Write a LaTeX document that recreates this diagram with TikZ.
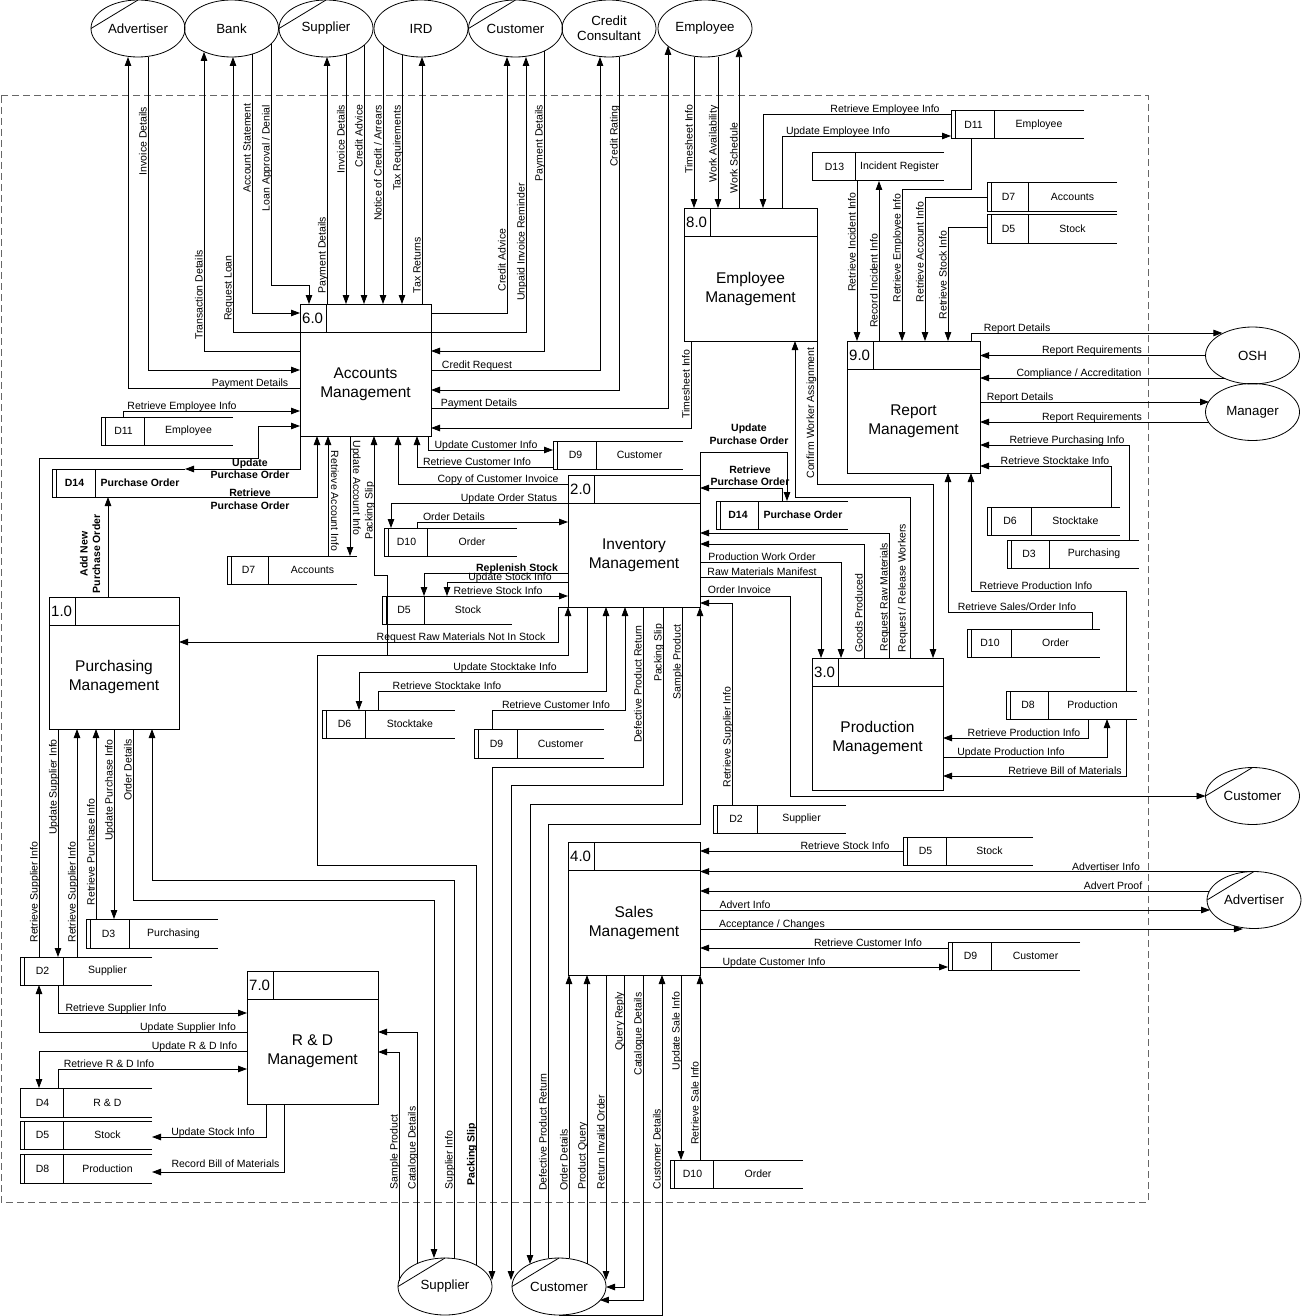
\documentclass[tikz,border=0pt]{standalone}
\usepackage{fontspec}
\setmainfont{Liberation Sans}
\usetikzlibrary{arrows.meta,shapes.geometric}
\newcommand\procbox[7]{%
  \node[draw,line width=1pt,inner sep=0pt,outer sep=0pt,anchor=north west,minimum width={#4-#2},minimum height={#5-#3}] (#1) at (#2,#3) {};
  \draw[line width=1pt] (#2,#3+28) -- (#4,#3+28) (#2+26,#3) -- (#2+26,#3+28);
  \node[anchor=west,inner sep=0pt,font=\fontsize{15}{17}\selectfont] at (#2+2,#3+14.5) {#6};
  \node[align=center,inner sep=0pt,font=\fontsize{15.5}{19}\selectfont] at ({(#2+#4)/2},{(#3+28+#5)/2}) {#7};
}
\newcommand\dstore[9]{%
  \node[inner sep=0pt,outer sep=0pt,anchor=north west,minimum width={#4-#2},minimum height={#5-#3}] (#1) at (#2,#3) {};
  \draw[line width=1pt] (#4,#3) -- (#2,#3) -- (#2,#5) -- (#4,#5) (#6,#3) -- (#6,#5);
  \ifnum#9=1 \draw[line width=1pt] (#2+4.5,#3) -- (#2+4.5,#5);\fi
  \node[font=\fontsize{10.5}{12}\selectfont,inner sep=0pt] at ({(#2+#6)/2+1},{(#3+#5)/2}) {#7};
  \node[font=\fontsize{10.5}{12}\selectfont,inner sep=0pt] at ({(#6+#4)/2},{(#3+#5)/2}) {#8};
}
\begin{document}
\begin{tikzpicture}[x=1pt,y=-1pt,
  fl/.style={draw,line width=0.8pt,-{Triangle[length=9pt,width=6.5pt]}},
  lab/.style={font=\fontsize{10.5}{12.5}\selectfont,inner sep=0pt,anchor=base},
  rl/.style={lab,rotate=90},
  rr/.style={lab,rotate=-90},
  blab/.style={font=\bfseries\fontsize{10.5}{12.5}\selectfont,inner sep=0pt,align=center},
  ent/.style={ellipse,draw,line width=0.8pt,minimum width=94pt,minimum height=57pt,inner sep=0pt,outer sep=0pt,font=\fontsize{13.3}{15}\selectfont,align=center},
  dup/.style={line width=0.8pt}]
\useasboundingbox (0,0) rectangle (1302,1316);
\fill[white] (0,0) rectangle (1302,1316);
\draw[dash pattern=on 7pt off 4pt,line width=1pt,black!60] (1,96) rectangle (1148,1202);

% external entities
\node[ent] (eAdv) at (138,28.5) {Advertiser};
\node[ent] (eBank) at (231.5,28.5) {Bank};
\node[ent] (eSup) at (326,28.5) {Supplier};
\node[ent] (eIRD) at (421,28.5) {IRD};
\node[ent] (eCus) at (515.5,28.5) {Customer};
\node[ent] (eCC) at (609,28.5) {Credit\\Consultant};
\node[ent] (eEmp) at (705,28.5) {Employee};
\node[ent] (eOSH) at (1252.5,355.5) {OSH};
\node[ent] (eMgr) at (1252.5,412) {Manager};
\node[ent] (eCusR) at (1252.5,796) {Customer};
\node[ent] (eAdvR) at (1254,900) {Advertiser};
\node[ent] (eSupB) at (445,1286.5) {Supplier};
\node[ent] (eCusB) at (559,1286.5) {Customer};
\foreach \e in {eAdv,eSup,eCus,eCusR,eAdvR,eSupB,eCusB} \draw[dup] (\e.north) -- (\e.west);

% processes
\procbox{p6}{300}{304}{431}{436}{6.0}{Accounts\\Management}
\procbox{p8}{684}{208}{817}{341}{8.0}{Employee\\Management}
\procbox{p9}{847}{341}{980}{473}{9.0}{Report\\Management}
\procbox{p2}{568}{475}{700}{607}{2.0}{Inventory\\Management}
\procbox{p1}{49}{597}{179}{729}{1.0}{Purchasing\\Management}
\procbox{p3}{812}{658}{943}{790}{3.0}{Production\\Management}
\procbox{p4}{568}{842}{700}{975}{4.0}{Sales\\Management}
\procbox{p7}{247}{971}{378}{1104}{7.0}{R \& D\\Management}

% data stores
\dstore{sD11a}{951}{111}{1084}{139}{994}{D11}{Employee}{1}
\dstore{sD13}{812}{153}{944}{181}{855}{D13}{Incident Register}{0}
\dstore{sD7a}{987}{183}{1117}{211}{1028}{D7}{Accounts}{1}
\dstore{sD5a}{987}{214}{1117}{243}{1028}{D5}{Stock}{1}
\dstore{sD11b}{101}{417}{233}{445}{144}{D11}{Employee}{1}
\dstore{sD14a}{52}{469}{185}{497}{95}{\bfseries D14}{\bfseries Purchase Order}{1}
\dstore{sD7b}{227}{556}{357}{584}{268}{D7}{Accounts}{1}
\dstore{sD9a}{553}{441}{683}{469}{596}{D9}{Customer}{1}
\dstore{sD10a}{384}{528}{517}{556}{427}{D10}{Order}{1}
\dstore{sD5b}{382}{596}{512}{624}{424}{D5}{Stock}{1}
\dstore{sD14b}{716}{501}{848}{529}{758}{\bfseries D14}{\bfseries Purchase Order}{1}
\dstore{sD6a}{322}{710}{455}{738}{365}{D6}{Stocktake}{1}
\dstore{sD9b}{474}{729}{604}{758}{517}{D9}{Customer}{1}
\dstore{sD6b}{987}{507}{1120}{535}{1031}{D6}{Stocktake}{1}
\dstore{sD3a}{1007}{540}{1139}{568}{1049}{D3}{Purchasing}{1}
\dstore{sD10b}{967}{629}{1100}{657}{1011}{D10}{Order}{1}
\dstore{sD8a}{1006}{691}{1137}{719}{1048}{D8}{Production}{1}
\dstore{sD2a}{713}{805}{846}{833}{757}{D2}{Supplier}{1}
\dstore{sD5c}{903}{837}{1033}{865}{946}{D5}{Stock}{1}
\dstore{sD9c}{948}{942}{1080}{970}{991}{D9}{Customer}{1}
\dstore{sD10c}{670}{1160}{803}{1188}{713}{D10}{Order}{1}
\dstore{sD3b}{86}{919}{218}{948}{129}{D3}{Purchasing}{1}
\dstore{sD2b}{20}{957}{152}{985}{63}{D2}{Supplier}{1}
\dstore{sD4}{20}{1088}{152}{1117}{63}{D4}{R \& D}{0}
\dstore{sD5d}{20}{1121}{152}{1149}{63}{D5}{Stock}{1}
\dstore{sD8b}{20}{1154}{152}{1183}{63}{D8}{Production}{1}

% ---- Accounts (6.0)
\draw[fl] (p6.west |- 0,388) -| (128,0 |- eAdv.south);
\node[lab] at (250,386.5) {Payment Details};
\draw[fl] (148,0 |- eAdv.south) |- (p6.west |- 0,370);
\node[rl] at (146.5,141) {Invoice Details};
\draw[fl] (p6.west |- 0,351) -| (204,0 |- eBank.221);
\node[rl] at (202.5,295) {Transaction Details};
\draw[fl] (p6.west |- 0,332) -| (233,0 |- eBank.south);
\node[rl] at (231.5,288) {Request Loan};
\draw[fl] (252,0 |- eBank.310) |- (p6.west |- 0,313);
\node[rl] at (250.5,148) {Account Statement};
\draw[fl] (271,0 |- eBank.340) |- (309,285) -- (309,0 |- p6.north);
\node[rl] at (269.5,158) {Loan Approval / Denial};
\draw[fl] (327,0 |- p6.north) -- (327,0 |- eSup.south);
\node[rl] at (325.5,255) {Payment Details};
\draw[fl] (346,0 |- eSup.308) -- (346,0 |- p6.north);
\node[rl] at (344.5,139) {Invoice Details};
\draw[fl] (364,0 |- eSup.336) -- (364,0 |- p6.north);
\node[rl] at (362.5,136) {Credit Advice};
\draw[fl] (383,0 |- eIRD.204) -- (383,0 |- p6.north);
\node[rl] at (381.5,163) {Notice of Credit / Arrears};
\draw[fl] (402,0 |- eIRD.234) -- (402,0 |- p6.north);
\node[rl] at (400.5,148) {Tax Requirements};
\draw[fl] (422,0 |- p6.north) -- (422,0 |- eIRD.south);
\node[rl] at (420.5,265) {Tax Returns};
\draw[fl] (p6.east |- 0,313) -| (507,0 |- eCus.south);
\node[rl] at (505.5,260) {Credit Advice};
\draw[fl] (p6.east |- 0,332) -| (526,0 |- eCus.south);
\node[rl] at (524.5,242) {Unpaid Invoice Reminder};
\draw[fl] (544,0 |- eCus.322) |- (p6.east |- 0,351);
\node[rl] at (542.5,143) {Payment Details};
\draw[fl] (p6.east |- 0,370) -| (600,0 |- eCC.south);
\node[lab] at (477,368.5) {Credit Request};
\draw[fl] (619,0 |- eCC.south) |- (p6.east |- 0,390);
\node[rl] at (617.5,136) {Credit Rating};
\draw[fl] (p6.east |- 0,408) -| (668,0 |- eEmp.205);
\node[lab] at (479,406.5) {Payment Details};
\draw[fl] (691,0 |- p8.south) |- (p6.east |- 0,428);
\node[rl] at (689.5,384) {Timesheet Info};
\draw[fl] (123,0 |- sD11b.north) |- (p6.west |- 0,411);
\node[lab] at (182,409.5) {Retrieve Employee Info};
\draw[fl] (39,0 |- sD2b.north) |- (258,458) |- (p6.west |- 0,426);
\node[rl] at (37.5,892) {Retrieve Supplier Info};
\draw[fl] (p6.south west) |- (sD14a.north east);
\node[blab] at (250,468.5) {Update\\Purchase Order};
\draw[fl] (sD14a.south east) -| (317,0 |- p6.south);
\node[blab] at (250,499) {Retrieve\\Purchase Order};
\draw[fl] (328,0 |- sD7b.north) -- (328,0 |- p6.south);
\node[rr] at (331,501) {Retrieve Account Info};
\draw[fl] (350,0 |- p6.south) -- (350,0 |- sD7b.north);
\node[rr] at (353,488) {Update Account Info};
\draw[fl] (387,655) |- (374,575) -- (374,0 |- p6.south);
\node[rl] at (372.5,511) {Packing Slip};
\draw[fl] (p2.west |- 0,484) -| (398,0 |- p6.south);
\node[lab] at (498,482.5) {Copy of Customer Invoice};
\draw[fl] (sD9a.west |- 0,467) -| (417,0 |- p6.south);
\node[lab] at (477,465) {Retrieve Customer Info};
\draw[fl] (428,0 |- p6.south) |- (sD9a.west |- 0,450);
\node[lab] at (486,448.5) {Update Customer Info};

% ---- Inventory (2.0)
\draw[fl] (p2.west |- 0,503) -| (391,0 |- sD10a.north);
\node[lab] at (509,501.5) {Update Order Status};
\draw[fl] (417,0 |- sD10a.north) |- (p2.west |- 0,522);
\node[lab] at (454,520.5) {Order Details};
\draw[fl] (p2.west |- 0,573) -| (424,0 |- sD5b.north);
\node[lab,font=\bfseries\fontsize{10.5}{12.5}\selectfont] at (517,571.5) {Replenish Stock};
\draw[fl] (p2.west |- 0,582) -| (447,0 |- sD5b.north);
\node[lab] at (510,580.5) {Update Stock Info};
\draw[fl] (sD5b.north east) -- (p2.west |- 0,596);
\node[lab] at (498,594) {Retrieve Stock Info};
\draw[fl] (p2.south west) -- (558,607) |- (p1.east |- 0,642);
\node[lab] at (461,640) {Request Raw Materials Not In Stock};
\draw[fl] (476,0 |- eSupB.35) |- (317,865) |- (568,655) -- (p2.south west);
\node[rl,font=\bfseries\fontsize{10.5}{12.5}\selectfont] at (474.5,1154) {Packing Slip};
\draw[fl] (587,0 |- p2.south) |- (359,672) -- (359,0 |- sD6a.north);
\node[lab] at (505,670.5) {Update Stocktake Info};
\draw[fl] (378,0 |- sD6a.north) |- (606,691) -- (606,0 |- p2.south);
\node[lab] at (447,689.5) {Retrieve Stocktake Info};
\draw[fl] (492,0 |- sD9b.north) |- (625,710) -- (625,0 |- p2.south);
\node[lab] at (556,708.5) {Retrieve Customer Info};
\draw[fl] (643,0 |- p2.south) |- (492,767) -- (492,0 |- eSupB.8);
\node[rl] at (641.5,684) {Defective Product Return};
\draw[fl] (663,0 |- p2.south) |- (511,785) -- (511,0 |- eCusB.172);
\node[rl] at (661.5,653) {Packing Slip};
\draw[fl] (682,0 |- p2.south) |- (530,804) -- (530,0 |- eCusB.142);
\node[rl] at (680.5,662) {Sample Product};
\draw[fl] (548,0 |- eCusB.north) |- (700,824) -- (p2.south east);
\node[rl] at (546.5,1132) {Defective Product Return};
\draw[fl] (p2.north east) |- (787,452) -- (787,0 |- sD14b.north);
\node[blab] at (749,434) {Update\\Purchase Order};
\draw[fl] (782,0 |- sD14b.north) |- (p2.east |- 0,488);
\node[blab] at (750,475.5) {Retrieve\\Purchase Order};
\draw[fl] (p2.east |- 0,562) -| (841,0 |- p3.north);
\node[lab] at (762,560.5) {Production Work Order};
\draw[fl] (p2.east |- 0,577) -| (821,0 |- p3.north);
\node[lab] at (762,575.5) {Raw Materials Manifest};
\draw[fl] (p2.east |- 0,596) -| (790,796) -- (eCusR.west);
\node[lab] at (739.5,593.5) {Order Invoice};
\draw[fl] (732,0 |- sD2a.north) |- (p2.east |- 0,603);
\node[rl] at (730.5,737) {Retrieve Supplier Info};

% ---- Production (3.0)
\draw[fl] (910,0 |- p3.north) |- (795,497) -- (795,0 |- p8.south);
\node[rl] at (905.5,588) {Request / Release Workers};
\draw[fl] (p8.south east) |- (933,484) -- (933,0 |- p3.north);
\node[rl] at (814,413) {Confirm Worker Assignment};
\draw[fl] (864,0 |- p3.north) |- (p2.east |- 0,544);
\node[rl] at (862.5,613) {Goods Produced};
\draw[fl] (889,0 |- p3.north) |- (p2.east |- 0,533);
\node[rl] at (887.5,597) {Request Raw Materials};
\draw[fl] (1088,0 |- sD8a.south) |- (p3.east |- 0,738);
\node[lab] at (1024,736.5) {Retrieve Production Info};
\draw[fl] (p3.east |- 0,757) -| (1107,0 |- sD8a.south);
\node[lab] at (1011,755.5) {Update Production Info};
\draw[fl] (1126,0 |- sD8a.south) |- (p3.east |- 0,776);
\node[lab] at (1065,774.5) {Retrieve Bill of Materials};

% ---- Report (9.0)
\draw[fl] (1126,0 |- sD8a.north) |- (971,591) -- (971,0 |- p9.south);
\node[lab] at (1036,589.5) {Retrieve Production Info};
\draw[fl] (1092,0 |- sD10b.north) |- (948,612) -- (948,0 |- p9.south);
\node[lab] at (1017,610) {Retrieve Sales/Order Info};
\draw[fl] (1129,0 |- sD3a.north) |- (p9.east |- 0,445);
\node[lab] at (1067,443.5) {Retrieve Purchasing Info};
\draw[fl] (1111,0 |- sD6b.north) |- (p9.east |- 0,466);
\node[lab] at (1055,464.5) {Retrieve Stocktake Info};
\draw[fl] (971,0 |- p9.north) |- (eOSH.144 |- 0,333);
\node[lab] at (1017,331.5) {Report Details};
\draw[fl] (eOSH.west) -- (p9.east |- eOSH.west);
\node[lab] at (1092,353.5) {Report Requirements};
\draw[fl] (eOSH.220 |- 0,378) -- (p9.east |- 0,378);
\node[lab] at (1079,376.5) {Compliance / Accreditation};
\draw[fl] (p9.east |- 0,402) -- (eMgr.166 |- 0,402);
\node[lab] at (1020,400.5) {Report Details};
\draw[fl] (eMgr.193 |- 0,422) -- (p9.east |- 0,422);
\node[lab] at (1092,420.5) {Report Requirements};
\draw[fl] (857,0 |- sD13.south) -- (857,0 |- p9.north);
\node[rl] at (855.5,242) {Retrieve Incident Info};
\draw[fl] (879,0 |- p9.north) -- (879,0 |- sD13.south);
\node[rl] at (877.5,281) {Record Incident Info};
\draw[fl] (971,0 |- sD11a.south) |- (902,189) -- (902,0 |- p9.north);
\node[rl] at (900.5,248) {Retrieve Employee Info};
\draw[fl] (sD7a.west |- 0,197) -| (925,0 |- p9.north);
\node[rl] at (923.5,252) {Retrieve Account Info};
\draw[fl] (sD5a.west |- 0,227) -| (948,0 |- p9.north);
\node[rl] at (946.5,275) {Retrieve Stock Info};

% ---- Employee (8.0)
\draw[fl] (694,0 |- eEmp.south) -- (694,0 |- p8.north);
\node[rl] at (692.5,139) {Timesheet Info};
\draw[fl] (718,0 |- eEmp.south) -- (718,0 |- p8.north);
\node[rl] at (716.5,144) {Work Availability};
\draw[fl] (739,0 |- p8.north) -- (739,0 |- eEmp.330);
\node[rl] at (737.5,158) {Work Schedule};
\draw[fl] (sD11a.west |- 0,114) -| (763,0 |- p8.north);
\node[lab] at (885,112.5) {Retrieve Employee Info};
\draw[fl] (782,0 |- p8.north) |- (sD11a.west |- 0,136);
\node[lab] at (838,134.5) {Update Employee Info};

% ---- Purchasing (1.0)
\draw[fl] (108,0 |- p1.north) -- (108,0 |- sD14a.south);
\node[blab,rotate=90] at (90,554) {Add New\\Purchase Order};
\draw[fl] (58,0 |- p1.south) -- (58,0 |- sD2b.north);
\node[rl] at (56.5,787) {Update Supplier Info};
\draw[fl] (77,0 |- sD2b.north) -- (77,0 |- p1.south);
\node[rl] at (75.5,892) {Retrieve Supplier Info};
\draw[fl] (96,0 |- sD3b.north) -- (96,0 |- p1.south);
\node[rl] at (94.5,852) {Retrieve Purchase Info};
\draw[fl] (114,0 |- p1.south) -- (114,0 |- sD3b.north);
\node[rl] at (112.5,790) {Update Purchase Info};
\draw[fl] (133,0 |- p1.south) |- (434,900) -- (434,0 |- eSupB.north);
\node[rl] at (131.5,770) {Order Details};
\draw[fl] (454,0 |- eSupB.north) |- (152,880) -- (152,0 |- p1.south);
\node[rl] at (452.5,1160) {Supplier Info};

% ---- R & D (7.0)
\draw[fl] (58,0 |- sD2b.south) |- (p7.west |- 0,1013);
\node[lab] at (116,1011.5) {Retrieve Supplier Info};
\draw[fl] (p7.west |- 0,1032) -| (39,0 |- sD2b.south);
\node[lab] at (188,1030.5) {Update Supplier Info};
\draw[fl] (p7.west |- 0,1051) -| (39,0 |- sD4.north);
\node[lab] at (194.5,1049.5) {Update R \& D Info};
\draw[fl] (58,0 |- sD4.north) |- (p7.west |- 0,1069);
\node[lab] at (109,1067.5) {Retrieve R \& D Info};
\draw[fl] (266,0 |- p7.south) |- (sD5d.east |- 0,1137);
\node[lab] at (213,1135.5) {Update Stock Info};
\draw[fl] (284,0 |- p7.south) |- (sD8b.east |- 0,1172);
\node[lab] at (225.5,1167.5) {Record Bill of Materials};
\draw[fl] (417,0 |- eSupB.141) |- (p7.east |- 0,1032);
\node[rl] at (415.5,1148) {Catalogue Details};
\draw[fl] (399,0 |- eSupB.173) |- (p7.east |- 0,1052);
\node[rl] at (397.5,1152) {Sample Product};

% ---- Sales (4.0)
\draw[fl] (sD5c.west |- 0,851) -- (p4.east |- 0,851);
\node[lab] at (845,849.5) {Retrieve Stock Info};
\draw[fl] (eAdvR.north) -- (p4.east |- eAdvR.north);
\node[lab] at (1106,870) {Advertiser Info};
\draw[fl] (eAdvR.169 |- 0,891) -- (p4.east |- 0,891);
\node[lab] at (1113,889.5) {Advert Proof};
\draw[fl] (p4.east |- 0,910) -- (eAdvR.193 |- 0,910);
\node[lab] at (745,908.5) {Advert Info};
\draw[fl] (p4.east |- 0,929) -- (eAdvR.248 |- 0,929);
\node[lab] at (772,927.5) {Acceptance / Changes};
\draw[fl] (sD9c.west |- 0,948) -- (p4.east |- 0,948);
\node[lab] at (868,946.5) {Retrieve Customer Info};
\draw[fl] (p4.east |- 0,967) -- (sD9c.west |- 0,967);
\node[lab] at (774,965.5) {Update Customer Info};
\draw[fl] (681,0 |- p4.south) -- (681,0 |- sD10c.north);
\node[rl] at (679.5,1031) {Update Sale Info};
\draw[fl] (700,0 |- sD10c.north) -- (p4.south east);
\node[rl] at (698.5,1103) {Retrieve Sale Info};
\draw[fl] (569,0 |- eCusB.north) -- (569,0 |- p4.south);
\node[rl] at (567.5,1160) {Order Details};
\draw[fl] (587,0 |- eCusB.39) -- (587,0 |- p4.south);
\node[rl] at (585.5,1156) {Product Query};
\draw[fl] (606,0 |- p4.south) -- (606,0 |- eCusB.8);
\node[rl] at (604.5,1142) {Return Invalid Order};
\draw[fl] (624,0 |- p4.south) |- (eCusB.east |- 0,1287);
\node[rl] at (622.5,1021) {Query Reply};
\draw[fl] (643,0 |- p4.south) |- (eCusB.341 |- 0,1300);
\node[rl] at (641.5,1034) {Catalogue Details};
\draw[fl] (eCusB.south) -| (662,0 |- p4.south);
\node[rl] at (660.5,1149) {Customer Details};
\end{tikzpicture}
\end{document}
